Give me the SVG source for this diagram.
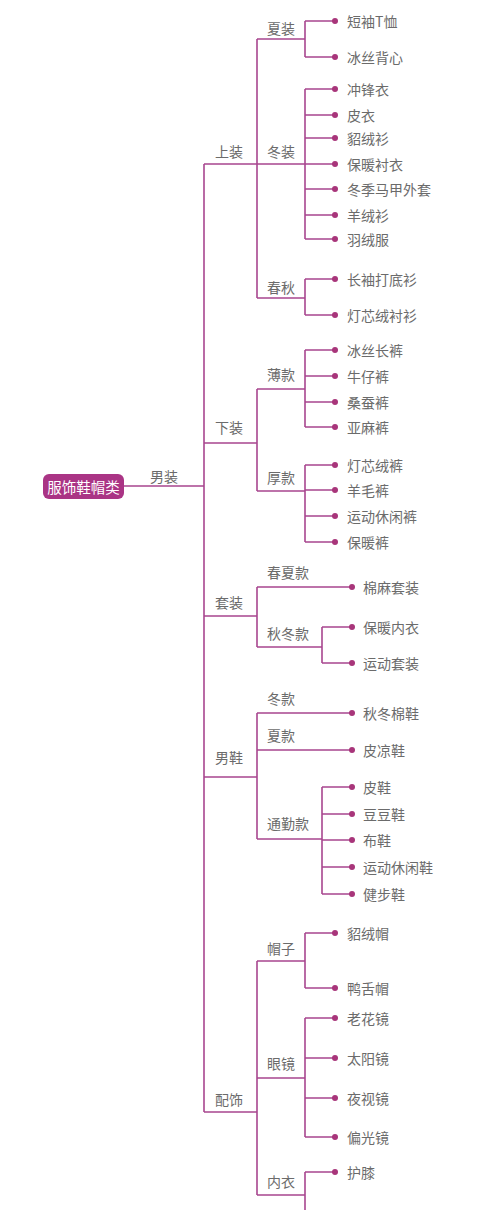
<svg xmlns="http://www.w3.org/2000/svg" width="480" height="1210" viewBox="0 0 480 1210">
<style>
.t{font-family:"Noto Sans CJK SC","Liberation Sans",sans-serif;font-size:14px;fill:#6b6b6b;dominant-baseline:central}
.r{font-family:"Noto Sans CJK SC","Liberation Sans",sans-serif;font-size:14.5px;fill:#ffffff;dominant-baseline:central;text-anchor:middle}
.c{fill:none;stroke:#a8468f;stroke-width:1.6}
.d{fill:#a8357a}
</style>
<rect width="480" height="1210" fill="#ffffff"/>
<g id="connectors" class="c">
<path d="M124 486H204M204 164V1112"/>
<path d="M204 164H257M257 39V298M257 39H305M305 21V57M305 21H335M305 57H335"/>
<path d="M257 164H305M305 89V239M305 89H335M305 115H335M305 138H335M305 164H335M305 189H335M305 215H335M305 239H335"/>
<path d="M257 298H305M305 279V315M305 279H335M305 315H335"/>
<path d="M204 443H257M257 389V491M257 389H305M305 350V427M305 350H335M305 376H335M305 402H335M305 427H335"/>
<path d="M257 491H305M305 465V542M305 465H335M305 490H335M305 516H335M305 542H335"/>
<path d="M204 616H257M257 587V647M257 587H352M257 647H322M322 627V663M322 627H352M322 663H352"/>
<path d="M204 777H257M257 713V839M257 713H352M257 750H352M257 839H322M322 787V894M322 787H352M322 814H352M322 840H352M322 867H352M322 894H352"/>
<path d="M204 1112H257M257 961V1195M257 961H305M305 933V988M305 933H335M305 988H335"/>
<path d="M257 1078H305M305 1018V1137M305 1018H335M305 1058H335M305 1098H335M305 1137H335"/>
<path d="M257 1195H305M305 1172V1210M305 1172H335"/>
</g>
<g id="dots" class="d">
<circle cx="335" cy="21" r="3"/><circle cx="335" cy="57" r="3"/>
<circle cx="335" cy="89" r="3"/><circle cx="335" cy="115" r="3"/><circle cx="335" cy="138" r="3"/><circle cx="335" cy="164" r="3"/><circle cx="335" cy="189" r="3"/><circle cx="335" cy="215" r="3"/><circle cx="335" cy="239" r="3"/>
<circle cx="335" cy="279" r="3"/><circle cx="335" cy="315" r="3"/>
<circle cx="335" cy="350" r="3"/><circle cx="335" cy="376" r="3"/><circle cx="335" cy="402" r="3"/><circle cx="335" cy="427" r="3"/>
<circle cx="335" cy="465" r="3"/><circle cx="335" cy="490" r="3"/><circle cx="335" cy="516" r="3"/><circle cx="335" cy="542" r="3"/>
<circle cx="352" cy="587" r="3"/><circle cx="352" cy="627" r="3"/><circle cx="352" cy="663" r="3"/>
<circle cx="352" cy="713" r="3"/><circle cx="352" cy="750" r="3"/>
<circle cx="352" cy="787" r="3"/><circle cx="352" cy="814" r="3"/><circle cx="352" cy="840" r="3"/><circle cx="352" cy="867" r="3"/><circle cx="352" cy="894" r="3"/>
<circle cx="335" cy="933" r="3"/><circle cx="335" cy="988" r="3"/>
<circle cx="335" cy="1018" r="3"/><circle cx="335" cy="1058" r="3"/><circle cx="335" cy="1098" r="3"/><circle cx="335" cy="1137" r="3"/>
<circle cx="335" cy="1172" r="3"/>
</g>
<g id="root"><rect x="43" y="474" width="81" height="25" rx="6" fill="#aa3485"/><text class="r" x="83.5" y="486.5">服饰鞋帽类</text></g>
<g id="nanzhuang"><text class="t" x="150" y="476">男装</text></g>
<g id="shangzhuang"><text class="t" x="215" y="151">上装</text></g>
<g id="xiazhuang1"><text class="t" x="267" y="28">夏装</text></g>
<g id="dongzhuang"><text class="t" x="267" y="151">冬装</text></g>
<g id="chunqiu"><text class="t" x="267" y="287">春秋</text></g>
<g id="xiazhuang"><text class="t" x="215" y="427">下装</text></g>
<g id="baokuan"><text class="t" x="267" y="374">薄款</text></g>
<g id="houkuan"><text class="t" x="267" y="477">厚款</text></g>
<g id="taozhuang"><text class="t" x="215" y="602">套装</text></g>
<g id="chunxiakuan"><text class="t" x="267" y="572">春夏款</text></g>
<g id="qiudongkuan"><text class="t" x="267" y="633">秋冬款</text></g>
<g id="nanxie"><text class="t" x="215" y="757">男鞋</text></g>
<g id="dongkuan"><text class="t" x="267" y="698">冬款</text></g>
<g id="xiakuan"><text class="t" x="267" y="735">夏款</text></g>
<g id="tongqinkuan"><text class="t" x="267" y="823">通勤款</text></g>
<g id="peishi"><text class="t" x="215" y="1099">配饰</text></g>
<g id="maozi"><text class="t" x="267" y="948">帽子</text></g>
<g id="yanjing"><text class="t" x="267" y="1063">眼镜</text></g>
<g id="neiyi"><text class="t" x="267" y="1181">内衣</text></g>
<g id="leaves">
<text class="t" x="347" y="21">短袖T恤</text>
<text class="t" x="347" y="57">冰丝背心</text>
<text class="t" x="347" y="89">冲锋衣</text>
<text class="t" x="347" y="115">皮衣</text>
<text class="t" x="347" y="138">貂绒衫</text>
<text class="t" x="347" y="164">保暖衬衣</text>
<text class="t" x="347" y="189">冬季马甲外套</text>
<text class="t" x="347" y="215">羊绒衫</text>
<text class="t" x="347" y="239">羽绒服</text>
<text class="t" x="347" y="279">长袖打底衫</text>
<text class="t" x="347" y="315">灯芯绒衬衫</text>
<text class="t" x="347" y="350">冰丝长裤</text>
<text class="t" x="347" y="376">牛仔裤</text>
<text class="t" x="347" y="402">桑蚕裤</text>
<text class="t" x="347" y="427">亚麻裤</text>
<text class="t" x="347" y="465">灯芯绒裤</text>
<text class="t" x="347" y="490">羊毛裤</text>
<text class="t" x="347" y="516">运动休闲裤</text>
<text class="t" x="347" y="542">保暖裤</text>
<text class="t" x="363" y="587">棉麻套装</text>
<text class="t" x="363" y="627">保暖内衣</text>
<text class="t" x="363" y="663">运动套装</text>
<text class="t" x="363" y="713">秋冬棉鞋</text>
<text class="t" x="363" y="750">皮凉鞋</text>
<text class="t" x="363" y="787">皮鞋</text>
<text class="t" x="363" y="814">豆豆鞋</text>
<text class="t" x="363" y="840">布鞋</text>
<text class="t" x="363" y="867">运动休闲鞋</text>
<text class="t" x="363" y="894">健步鞋</text>
<text class="t" x="347" y="933">貂绒帽</text>
<text class="t" x="347" y="988">鸭舌帽</text>
<text class="t" x="347" y="1018">老花镜</text>
<text class="t" x="347" y="1058">太阳镜</text>
<text class="t" x="347" y="1098">夜视镜</text>
<text class="t" x="347" y="1137">偏光镜</text>
<text class="t" x="347" y="1172">护膝</text>
</g>
</svg>
